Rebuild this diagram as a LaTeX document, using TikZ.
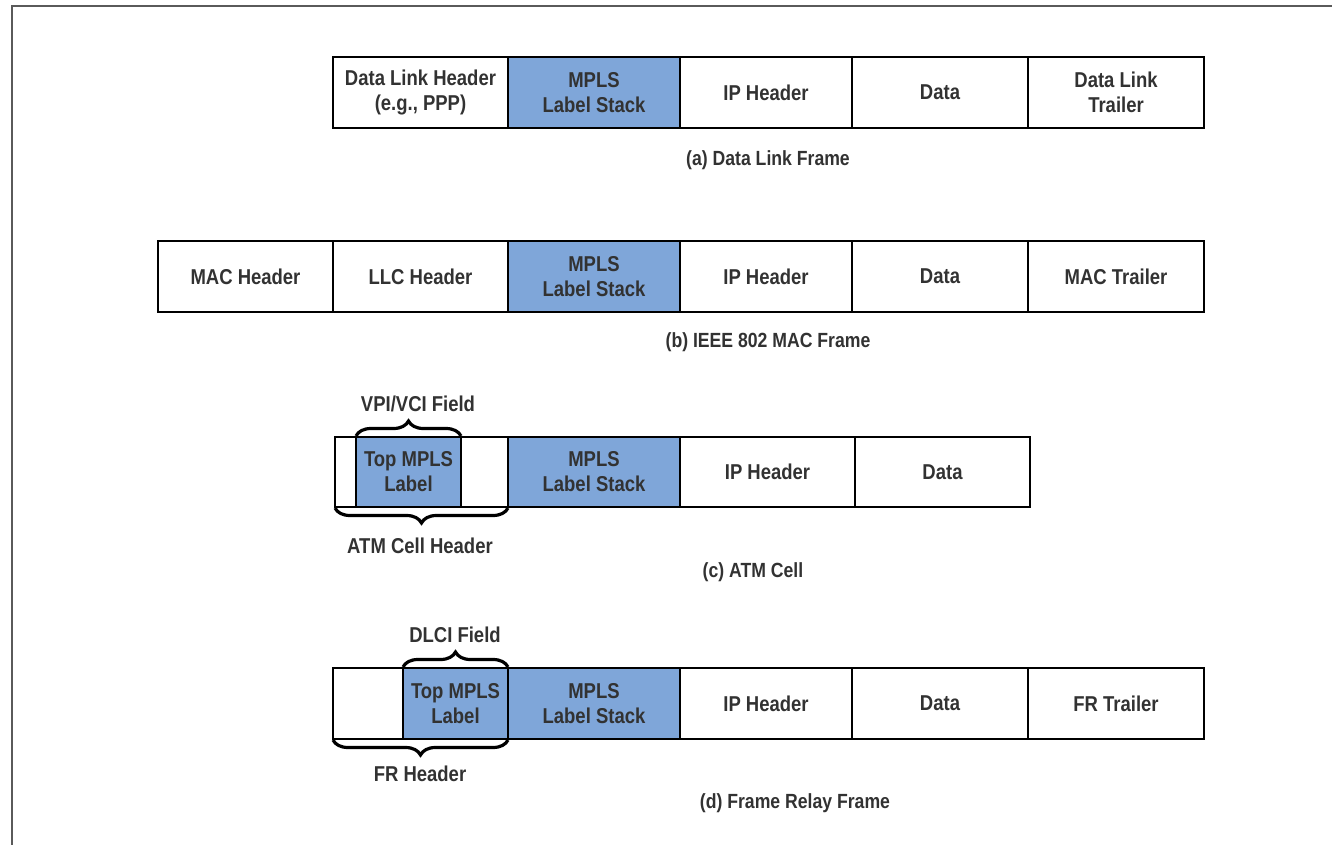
\documentclass[tikz,border=0pt]{standalone}
\usepackage{fontspec}
\setmainfont{Liberation Sans}[FakeStretch=0.86]
\usetikzlibrary{decorations.pathreplacing}
\definecolor{mplsblue}{RGB}{127,166,217}
\definecolor{txt}{RGB}{50,50,50}
\definecolor{framegray}{RGB}{90,90,90}
\begin{document}
\begin{tikzpicture}[x=1pt,y=-1pt,
  cell/.style={draw=black, line width=2.8pt, inner sep=0pt, outer sep=0pt, align=center,
    font=\fontsize{21.5}{25}\selectfont\bfseries, text=txt},
  bluecell/.style={cell, fill=mplsblue},
  captext/.style={font=\fontsize{20.5}{24}\selectfont\bfseries, text=txt, inner sep=0pt},
  brc/.style={draw=black, line width=3.2pt, decorate, decoration={brace, amplitude=15pt}},
  brlabel/.style={font=\fontsize{21.5}{25}\selectfont\bfseries, text=txt, inner sep=0pt}]
\useasboundingbox (0,0) rectangle (1332,845);
\draw[framegray, line width=2.5pt] (12,845) -- (12,6) -- (1332,6);
% (a)
\begin{scope}[every node/.append style={minimum height=71pt}]
\node[cell, minimum width=175pt] (a1) at (420.5,92.5) {Data Link Header\\(e.g., PPP)};
\node[bluecell, minimum width=172pt] (a2) at (594,92.5) {MPLS\\Label Stack};
\node[cell, minimum width=172pt] (a3) at (766,92.5) {IP Header};
\node[cell, minimum width=176pt] (a4) at (940,92.5) {Data};
\node[cell, minimum width=176pt] (a5) at (1116,92.5) {Data Link\\Trailer};
\end{scope}
\node[captext] (ca) at (768,160) {(a) Data Link Frame};
% (b)
\begin{scope}[every node/.append style={minimum height=71pt}]
\node[cell, minimum width=175pt] (b1) at (245.5,276.5) {MAC Header};
\node[cell, minimum width=175pt] (b2) at (420.5,276.5) {LLC Header};
\node[bluecell, minimum width=172pt] (b3) at (594,276.5) {MPLS\\Label Stack};
\node[cell, minimum width=172pt] (b4) at (766,276.5) {IP Header};
\node[cell, minimum width=176pt] (b5) at (940,276.5) {Data};
\node[cell, minimum width=176pt] (b6) at (1116,276.5) {MAC Trailer};
\end{scope}
\node[captext] (cb) at (768,342) {(b) IEEE 802 MAC Frame};
% (c)
\begin{scope}[every node/.append style={minimum height=70pt}]
\node[cell, minimum width=173pt] (c1) at (421.5,472) {};
\node[bluecell, minimum width=105pt] (c1t) at (408.5,472) {Top MPLS\\Label};
\node[bluecell, minimum width=172pt] (c2) at (594,472) {MPLS\\Label Stack};
\node[cell, minimum width=175pt] (c3) at (767.5,472) {IP Header};
\node[cell, minimum width=175pt] (c4) at (942.5,472) {Data};
\end{scope}
\draw[brc] ([yshift=1pt]c1t.north west) -- ([yshift=1pt]c1t.north east);
\node[brlabel] (vpi) at (418,404) {VPI/VCI Field};
\draw[brc] ([yshift=-1pt]c1.south east) -- ([yshift=-1pt]c1.south west);
\node[brlabel] (atmh) at (420,546) {ATM Cell Header};
\node[captext] (cc) at (753,572) {(c) ATM Cell};
% (d)
\begin{scope}[every node/.append style={minimum height=71pt}]
\node[cell, minimum width=175pt] (d1) at (420.5,703.5) {};
\node[bluecell, minimum width=105pt] (d1t) at (455.5,703.5) {Top MPLS\\Label};
\node[bluecell, minimum width=172pt] (d2) at (594,703.5) {MPLS\\Label Stack};
\node[cell, minimum width=172pt] (d3) at (766,703.5) {IP Header};
\node[cell, minimum width=176pt] (d4) at (940,703.5) {Data};
\node[cell, minimum width=176pt] (d5) at (1116,703.5) {FR Trailer};
\end{scope}
\draw[brc] ([yshift=1pt]d1t.north west) -- ([yshift=1pt]d1t.north east);
\node[brlabel] (dlci) at (455,635) {DLCI Field};
\draw[brc] ([yshift=-1pt]d1.south east) -- ([yshift=-1pt]d1.south west);
\node[brlabel] (frh) at (420,774) {FR Header};
\node[captext] (cd) at (795,803) {(d) Frame Relay Frame};
\end{tikzpicture}
\end{document}
